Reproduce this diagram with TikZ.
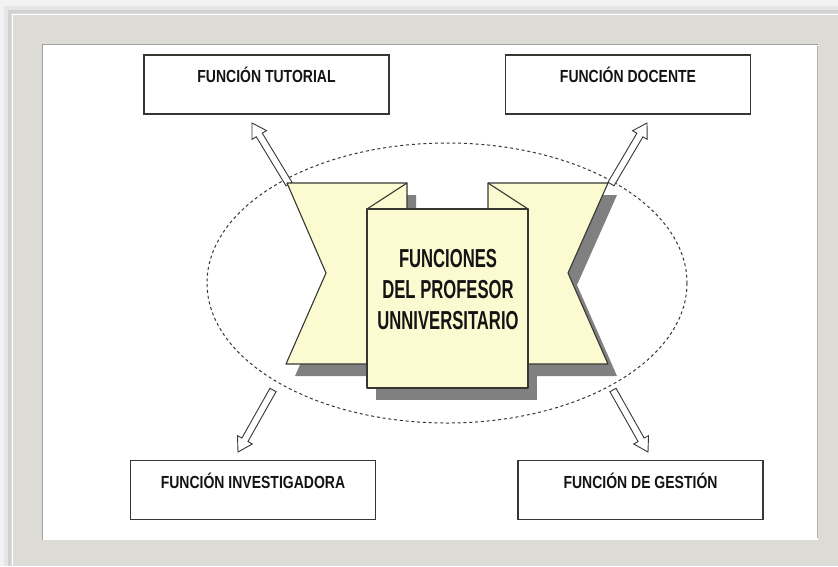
\documentclass[tikz,border=0pt]{standalone}
\usepackage{fontspec}
\usepackage{tikz}
\usetikzlibrary{calc}
\newfontfamily\boxfont{Liberation Sans}[FakeStretch=0.8]
\newfontfamily\bannerfont{Liberation Sans}[FakeStretch=0.64]
\definecolor{frameGray}{RGB}{221,219,213}
\definecolor{bannerYellow}{RGB}{252,250,208}
\definecolor{shadowGray}{RGB}{128,128,128}
\definecolor{lineGray}{RGB}{55,55,50}

\tikzset{
  funcbox/.style={draw=lineGray, line width=1.2pt, fill=white,
    minimum width=245pt, minimum height=59pt, inner sep=0pt},
  funclabel/.style={font=\boxfont\bfseries\fontsize{17.5}{20}\selectfont,
    text=black!92, anchor=base, inner sep=0pt},
  flap/.style={fill=bannerYellow, draw=lineGray, line width=1.1pt, line join=round},
  flapshadow/.style={fill=shadowGray},
  hollow/.style={draw=lineGray, fill=white, line width=0.9pt, line join=miter,
    to path={($(\tikztostart)!3.5pt!90:(\tikztotarget)$)
      -- ($(\tikztotarget)!14pt!(\tikztostart)!3.5pt!90:(\tikztotarget)$)
      -- ($(\tikztotarget)!14pt!(\tikztostart)!8.5pt!90:(\tikztotarget)$)
      -- (\tikztotarget)
      -- ($(\tikztotarget)!14pt!(\tikztostart)!8.5pt!-90:(\tikztotarget)$)
      -- ($(\tikztotarget)!14pt!(\tikztostart)!3.5pt!-90:(\tikztotarget)$)
      -- ($(\tikztostart)!3.5pt!-90:(\tikztotarget)$) -- cycle}},
}

\begin{document}
\begin{tikzpicture}[x=1pt, y=-1pt]
\useasboundingbox (0,0) rectangle (838,566);
% frame
\fill[black!5] (0,0) rectangle (838,566);
\fill[black!10] (4,6) rectangle (838,566);
\fill[black!18] (8,10) rectangle (838,566);
\fill[frameGray] (11,13) rectangle (838,566);
\draw[white, line width=1pt] (12,566) -- (12,14) -- (838,14);
\fill[white] (42,44) rectangle (818,540);
\draw[gray!75, line width=1pt] (42.5,540) -- (42.5,44.5) -- (818,44.5);
\draw[gray!60, line width=1pt] (817,46) -- (817,538);
%
\draw[lineGray, line width=1pt, dash pattern=on 3pt off 2.8pt]
  (447,283) ellipse [x radius=240, y radius=140];
%
\coordinate (tlA) at (289,184); \coordinate (tlB) at (252,123);
\coordinate (trA) at (611,184); \coordinate (trB) at (647,123);
\coordinate (blA) at (273,390); \coordinate (blB) at (238,452);
\coordinate (brA) at (613,390); \coordinate (brB) at (648,452);
\draw[hollow] (tlA) to (tlB);
\draw[hollow] (trA) to (trB);
\draw[hollow] (blA) to (blB);
\draw[hollow] (brA) to (brB);
%
\begin{scope}[shift={(9,12)}]
\fill[flapshadow] (287,183) -- (407,183) -- (407,364) -- (286,364) -- (326,273) -- cycle;
\fill[flapshadow] (488,183) -- (608,183) -- (568,273) -- (608,364) -- (488,364) -- cycle;
\fill[flapshadow] (367,209) rectangle (528,388);
\end{scope}
%
\filldraw[flap] (287,183) -- (407,183) -- (407,209) -- (367,209) -- (367,364)
  -- (286,364) -- (326,273) -- cycle;
\draw[lineGray, line width=1.1pt] (407,183) -- (367,209);
\filldraw[flap] (488,183) -- (608,183) -- (568,273) -- (608,364) -- (528,364)
  -- (528,209) -- (488,209) -- cycle;
\draw[lineGray, line width=1.1pt] (488,183) -- (528,209);
\filldraw[flap] (367,209) rectangle (528,388);
%
\node[font=\bannerfont\bfseries\fontsize{26}{31}\selectfont, text=black!92,
  align=center, inner sep=0pt] (core) at (448,290)
  {FUNCIONES\\DEL PROFESOR\\UNNIVERSITARIO};
%
\node[funcbox] (tut) at (266.5,84.5) {};
\node[funcbox] (doc) at (628,84.5) {};
\node[funcbox] (inv) at (253,490) {};
\node[funcbox] (ges) at (640.5,490) {};
\node[funclabel] (tutl) at ($(tut.north)+(0,28.3)$) {FUNCIÓN TUTORIAL};
\node[funclabel] (docl) at ($(doc.north)+(0,28.3)$) {FUNCIÓN DOCENTE};
\node[funclabel] (invl) at ($(inv.north)+(0,28.3)$) {FUNCIÓN INVESTIGADORA};
\node[funclabel] (gesl) at ($(ges.north)+(0,28.3)$) {FUNCIÓN DE GESTIÓN};
\end{tikzpicture}
\end{document}
